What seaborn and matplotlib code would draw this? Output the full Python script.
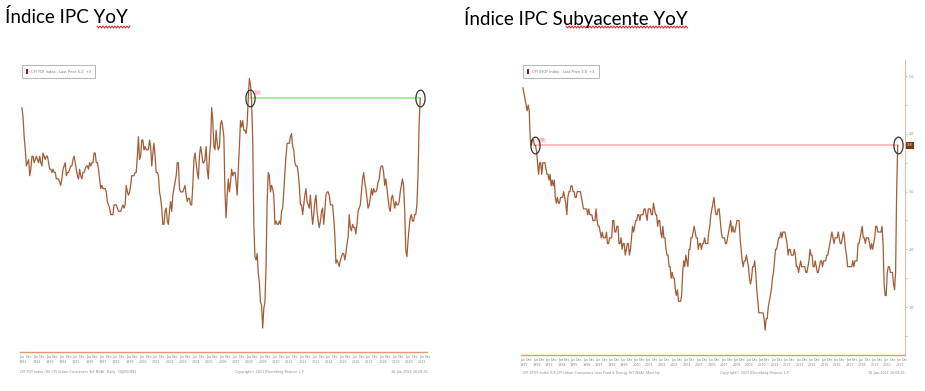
import numpy as np
import pandas as pd
import matplotlib.pyplot as plt
from matplotlib.lines import Line2D
from matplotlib.patches import Patch
import seaborn as sns

# monthly data, Jun-1991 .. May-2021
start_month = '1991-06-01'
end_month = '2021-05-01'

# headline CPI YoY %
cpi_yoy = [
    4.7, 4.4, 3.8, 3.4, 2.9, 3.0, 3.1,                               # 1991
    2.6, 2.8, 3.2, 3.2, 3.0, 3.1, 3.2, 3.1, 3.0, 3.2, 3.0, 2.9,      # 1992
    3.3, 3.2, 3.1, 3.2, 3.2, 3.0, 2.8, 2.8, 2.7, 2.8, 2.7, 2.7,      # 1993
    2.5, 2.5, 2.5, 2.4, 2.3, 2.5, 2.8, 2.9, 3.0, 2.6, 2.7, 2.7,      # 1994
    2.8, 2.9, 2.9, 3.1, 3.2, 3.0, 2.8, 2.6, 2.5, 2.8, 2.6, 2.5,      # 1995
    2.7, 2.7, 2.8, 2.9, 2.9, 2.8, 3.0, 2.9, 3.0, 3.0, 3.3, 3.3,      # 1996
    3.0, 3.0, 2.8, 2.5, 2.2, 2.3, 2.2, 2.2, 2.2, 2.1, 1.8, 1.7,      # 1997
    1.6, 1.4, 1.4, 1.4, 1.7, 1.7, 1.7, 1.6, 1.5, 1.5, 1.5, 1.6,      # 1998
    1.7, 1.6, 1.7, 2.3, 2.1, 2.0, 2.1, 2.3, 2.6, 2.6, 2.6, 2.7,      # 1999
    2.7, 3.2, 3.8, 3.1, 3.2, 3.7, 3.7, 3.4, 3.5, 3.4, 3.4, 3.4,      # 2000
    3.7, 3.5, 2.9, 3.3, 3.6, 3.2, 2.7, 2.7, 2.6, 2.1, 1.9, 1.6,      # 2001
    1.1, 1.1, 1.5, 1.6, 1.2, 1.1, 1.5, 1.8, 1.5, 2.0, 2.2, 2.4,      # 2002
    2.6, 3.0, 3.0, 2.2, 2.1, 2.1, 2.1, 2.2, 2.3, 2.0, 1.8, 1.9,      # 2003
    1.9, 1.7, 1.7, 2.3, 3.1, 3.3, 3.0, 2.7, 2.5, 3.2, 3.5, 3.3,      # 2004
    3.0, 3.0, 3.1, 3.5, 2.8, 2.5, 3.2, 3.6, 4.7, 4.3, 3.5, 3.4,      # 2005
    4.0, 3.6, 3.4, 3.5, 4.2, 4.3, 4.1, 3.8, 2.1, 1.3, 2.0, 2.5,      # 2006
    2.1, 2.4, 2.8, 2.6, 2.7, 2.7, 2.4, 2.0, 2.8, 3.5, 4.3, 4.1,      # 2007
    4.3, 4.0, 4.0, 3.9, 4.2, 5.0, 5.6, 5.4, 4.9, 3.7, 1.1, 0.1,      # 2008
    0.0, 0.2, -0.4, -0.7, -1.3, -1.4, -2.1, -1.5, -1.3, -0.2, 1.8, 2.7,  # 2009
    2.6, 2.1, 2.3, 2.2, 2.0, 1.1, 1.2, 1.1, 1.1, 1.2, 1.1, 1.5,      # 2010
    1.6, 2.1, 2.7, 3.2, 3.6, 3.6, 3.6, 3.8, 3.9, 3.5, 3.4, 3.0,      # 2011
    2.9, 2.9, 2.7, 2.3, 1.7, 1.7, 1.4, 1.7, 2.0, 2.2, 1.8, 1.7,      # 2012
    1.6, 2.0, 1.5, 1.1, 1.4, 1.8, 2.0, 1.5, 1.2, 1.0, 1.2, 1.5,      # 2013
    1.6, 1.1, 1.5, 2.0, 2.1, 2.1, 2.0, 1.7, 1.7, 1.7, 1.3, 0.8,      # 2014
    -0.1, 0.0, -0.1, -0.2, 0.0, 0.1, 0.2, 0.2, 0.0, 0.2, 0.5, 0.7,   # 2015
    1.4, 1.0, 0.9, 1.1, 1.0, 1.0, 0.8, 1.1, 1.5, 1.6, 1.7, 2.1,      # 2016
    2.5, 2.7, 2.4, 2.2, 1.9, 1.6, 1.7, 1.9, 2.2, 2.0, 2.2, 2.1,      # 2017
    2.1, 2.2, 2.4, 2.5, 2.8, 2.9, 2.9, 2.7, 2.3, 2.5, 2.2, 1.9,      # 2018
    1.6, 1.5, 1.9, 2.0, 1.8, 1.6, 1.8, 1.7, 1.7, 1.8, 2.1, 2.3,      # 2019
    2.5, 2.3, 1.5, 0.3, 0.1, 0.6, 1.0, 1.3, 1.4, 1.2, 1.2, 1.4,      # 2020
    1.4, 1.7, 2.6, 4.2, 5.0,                                         # 2021
]

# core CPI (ex food & energy) YoY %
core_yoy = [
    4.8, 4.7, 4.6, 4.5, 4.4, 4.5, 4.4,                               # 1991
    3.9, 3.8, 3.9, 3.9, 3.8, 3.8, 3.7, 3.5, 3.3, 3.5, 3.5, 3.3,      # 1992
    3.5, 3.5, 3.5, 3.4, 3.3, 3.3, 3.2, 3.3, 3.1, 3.2, 3.1, 3.2,      # 1993
    2.9, 2.8, 2.9, 2.8, 2.8, 2.9, 2.9, 2.9, 3.0, 2.9, 2.8, 2.6,      # 1994
    2.9, 3.0, 3.0, 3.1, 3.1, 3.0, 3.0, 2.9, 2.9, 3.0, 3.0, 3.0,      # 1995
    3.0, 2.9, 2.8, 2.7, 2.7, 2.7, 2.7, 2.6, 2.7, 2.6, 2.6, 2.6,      # 1996
    2.5, 2.5, 2.5, 2.7, 2.5, 2.4, 2.4, 2.3, 2.2, 2.3, 2.2, 2.2,      # 1997
    2.2, 2.3, 2.1, 2.1, 2.2, 2.2, 2.2, 2.5, 2.5, 2.3, 2.3, 2.4,      # 1998
    2.4, 2.1, 2.1, 2.2, 2.0, 2.1, 2.1, 1.9, 2.0, 2.1, 2.1, 1.9,      # 1999
    2.0, 2.2, 2.4, 2.3, 2.4, 2.5, 2.5, 2.6, 2.6, 2.5, 2.6, 2.6,      # 2000
    2.6, 2.7, 2.7, 2.6, 2.5, 2.7, 2.7, 2.7, 2.6, 2.6, 2.8, 2.7,      # 2001
    2.6, 2.6, 2.4, 2.5, 2.5, 2.3, 2.2, 2.4, 2.2, 2.2, 2.0, 1.9,      # 2002
    1.9, 1.7, 1.7, 1.5, 1.6, 1.5, 1.5, 1.3, 1.2, 1.3, 1.1, 1.1,      # 2003
    1.1, 1.2, 1.6, 1.8, 1.7, 1.9, 1.8, 1.7, 2.0, 2.0, 2.2, 2.2,      # 2004
    2.3, 2.4, 2.3, 2.2, 2.2, 2.0, 2.1, 2.1, 2.0, 2.1, 2.1, 2.2,      # 2005
    2.1, 2.1, 2.1, 2.3, 2.4, 2.6, 2.7, 2.8, 2.9, 2.7, 2.6, 2.6,      # 2006
    2.7, 2.7, 2.5, 2.3, 2.2, 2.2, 2.2, 2.1, 2.1, 2.2, 2.3, 2.4,      # 2007
    2.5, 2.3, 2.4, 2.3, 2.3, 2.4, 2.5, 2.5, 2.5, 2.2, 2.0, 1.8,      # 2008
    1.7, 1.8, 1.8, 1.9, 1.8, 1.7, 1.5, 1.4, 1.5, 1.7, 1.7, 1.8,      # 2009
    1.6, 1.3, 1.1, 0.9, 0.9, 0.9, 0.9, 0.9, 0.8, 0.6, 0.8, 0.8,      # 2010
    1.0, 1.1, 1.2, 1.3, 1.5, 1.6, 1.8, 2.0, 2.0, 2.1, 2.2, 2.2,      # 2011
    2.3, 2.2, 2.3, 2.3, 2.3, 2.2, 2.1, 1.9, 2.0, 2.0, 1.9, 1.9,      # 2012
    1.9, 2.0, 1.9, 1.7, 1.7, 1.6, 1.7, 1.8, 1.7, 1.7, 1.7, 1.7,      # 2013
    1.6, 1.6, 1.7, 1.8, 2.0, 1.9, 1.9, 1.7, 1.7, 1.8, 1.7, 1.6,      # 2014
    1.6, 1.7, 1.8, 1.8, 1.7, 1.8, 1.8, 1.8, 1.9, 1.9, 2.0, 2.1,      # 2015
    2.2, 2.3, 2.2, 2.1, 2.2, 2.2, 2.2, 2.3, 2.2, 2.1, 2.1, 2.2,      # 2016
    2.3, 2.2, 2.0, 1.9, 1.7, 1.7, 1.7, 1.7, 1.7, 1.8, 1.7, 1.8,      # 2017
    1.8, 1.8, 2.1, 2.1, 2.2, 2.3, 2.4, 2.2, 2.2, 2.1, 2.2, 2.2,      # 2018
    2.2, 2.1, 2.0, 2.1, 2.0, 2.1, 2.2, 2.4, 2.4, 2.3, 2.3, 2.3,      # 2019
    2.3, 2.4, 2.1, 1.4, 1.2, 1.2, 1.6, 1.7, 1.7, 1.6, 1.6, 1.6,      # 2020
    1.4, 1.3, 1.6, 3.0, 3.8,                                         # 2021
]

years = list(range(1991, 2022))
titles = ['Índice IPC YoY', 'Índice IPC Subyacente YoY']
legend_labels = ['CPI YOY Index - Last Price 5.0  +3', 'CPI XYOY Index - Last Price 3.8  +3']
source_labels = ['CPI YOY Index (US CPI Urban Consumers YoY NSA)  Daily  30JUN1991',
                 'CPI XYOY Index (US CPI Urban Consumers Less Food & Energy YoY NSA)  Monthly']
copyright_label = 'Copyright© 2021 Bloomberg Finance L.P.'
stamp_label = '16-Jun-2021 16:08:41'

dates = pd.date_range(start_month, end_month, freq='MS')
df = pd.DataFrame({'t': dates.year + (dates.month - 1) / 12,
                   'cpi': cpi_yoy, 'core': core_yoy})

W, H = 925, 391
sns.set_style('white')
plt.rcParams['font.family'] = ['DejaVu Sans']
fig = plt.figure(figsize=(W / 100, H / 100), dpi=100)


def px_axes(x0, y0, x1, y1):
    return fig.add_axes([x0 / W, 1 - y1 / H, (x1 - x0) / W, (y1 - y0) / H])


def squiggle(x0, x1, y):
    xs = np.arange(x0, x1 + 0.1, 1.5)
    ys = y + np.where(np.arange(len(xs)) % 2 == 0, -1.0, 1.0)
    fig.add_artist(Line2D(xs / W, 1 - ys / H, transform=fig.transFigure,
                          color='#e02020', lw=0.7))


line_col = '#a25c36'
small = dict(fontsize=2.4, color='#8a8a8a')


def bloomberg_panel(ax, col, xlim, ylim, hl_color, label, show_right):
    sns.lineplot(data=df, x='t', y=col, ax=ax, color=line_col, lw=0.9)
    ax.set_xlim(*xlim)
    ax.set_ylim(*ylim)
    ax.set_xlabel('')
    ax.set_ylabel('')

    # last value and the previous time the series was that high
    vals = df[col].to_numpy()
    last = vals[-1]
    prev = np.where(vals[:-1] >= last)[0][-1]
    t_prev, t_last = df['t'].iloc[prev], df['t'].iloc[-1]
    ax.plot([t_prev, t_last], [last, last], color=hl_color, lw=1.4, zorder=1)
    theta = np.linspace(0, 2 * np.pi, 50)
    ell = list(zip(0.55 * np.cos(theta), np.sin(theta)))
    ax.plot([t_prev, t_last], [last, last], ls='none', marker=ell, ms=12,
            mfc='none', mec='#333333', mew=0.9, zorder=4)
    ax.annotate(f'{last:.1f}', xy=(t_prev, last), xytext=(3, 3),
                textcoords='offset points', fontsize=2.4, color='#ff7070',
                bbox=dict(boxstyle='square,pad=0.2', fc='#ffe0e0', ec='none'))

    # spines / ticks
    for s in ['top', 'left', 'right']:
        ax.spines[s].set_visible(False)
    ax.spines['bottom'].set_linestyle((0, (1, 1)))
    ax.spines['bottom'].set_color('#e09a70')
    ax.spines['bottom'].set_linewidth(1.0)

    months = [y + 5 / 12 for y in years] + [y + 11 / 12 for y in years]
    mlabels = ['Jun'] * len(years) + ['Dec'] * len(years)
    ax.set_xticks(months)
    ax.set_xticklabels(mlabels, **small)
    ax.set_xticks([y + 0.5 for y in years], minor=True)
    ax.set_xticklabels([str(y) for y in years], minor=True, **small)
    ax.tick_params(axis='x', which='major', length=1.5, width=0.4,
                   color='#c08060', pad=0.8)
    ax.tick_params(axis='x', which='minor', length=0, pad=6)
    ax.tick_params(axis='y', left=False, labelleft=False)

    if show_right:
        ax.spines['right'].set_visible(True)
        ax.spines['right'].set_color('#dcc0b0')
        ax.yaxis.tick_right()
        ax.set_yticks([1, 2, 3, 4, 5])
        ax.set_yticklabels(['1.0', '2.0', '3.0', '4.0', '5.0'], **small)
        ax.set_yticks(np.arange(0.5, 5.3, 0.5), minor=True)
        ax.tick_params(axis='y', which='both', right=True, labelright=True,
                       length=1.5, width=0.4, color='#c08060', pad=1)
        ax.annotate(f'{last:.1f}', xy=(1, last), xycoords=('axes fraction', 'data'),
                    xytext=(1.5, 0), textcoords='offset points', va='center',
                    fontsize=2.6, color='white', annotation_clip=False,
                    bbox=dict(boxstyle='square,pad=0.35', fc='#7a3512', ec='none'))

    handle = Patch(facecolor='#6e2a10', edgecolor='none')
    leg = ax.legend([handle], [label], loc='upper left', bbox_to_anchor=(0.0, 0.99),
                    fontsize=2.6, handlelength=0.5, handleheight=1.6,
                    borderpad=1.2, frameon=True, fancybox=True, framealpha=1)
    leg.get_frame().set_edgecolor('#aaaaaa')
    leg.get_frame().set_linewidth(0.6)
    for t in leg.get_texts():
        t.set_color('#777777')


ax1 = px_axes(20, 60, 428, 352)
bloomberg_panel(ax1, 'cpi', (1991.27, 2021.83), (-2.84, 6.17), '#9ef09e',
                legend_labels[0], False)

ax2 = px_axes(521, 60, 905, 355)
bloomberg_panel(ax2, 'core', (1991.26, 2021.74), (0.17, 5.28), '#ffbcbc',
                legend_labels[1], True)

# titles (screenshot captions)
fig.text(5 / W, 1 - 17 / H, titles[0], fontsize=13.5, family='Lato',
         va='center', ha='left', color='black')
fig.text(464 / W, 1 - 17 / H, titles[1], fontsize=13.5, family='Lato',
         va='center', ha='left', color='black')
squiggle(97, 130, 27)
squiggle(566, 688, 27)

# bloomberg footer lines
fig.text(20 / W, 1 - 372 / H, source_labels[0], va='center', **small)
fig.text(270 / W, 1 - 372 / H, copyright_label, va='center', ha='center', **small)
fig.text(428 / W, 1 - 372 / H, stamp_label, va='center', ha='right', **small)
fig.text(523 / W, 1 - 373 / H, source_labels[1], va='center', **small)
fig.text(755 / W, 1 - 373 / H, copyright_label, va='center', ha='center', **small)
fig.text(905 / W, 1 - 373 / H, stamp_label, va='center', ha='right', **small)

fig.savefig('out.png', dpi=100)
